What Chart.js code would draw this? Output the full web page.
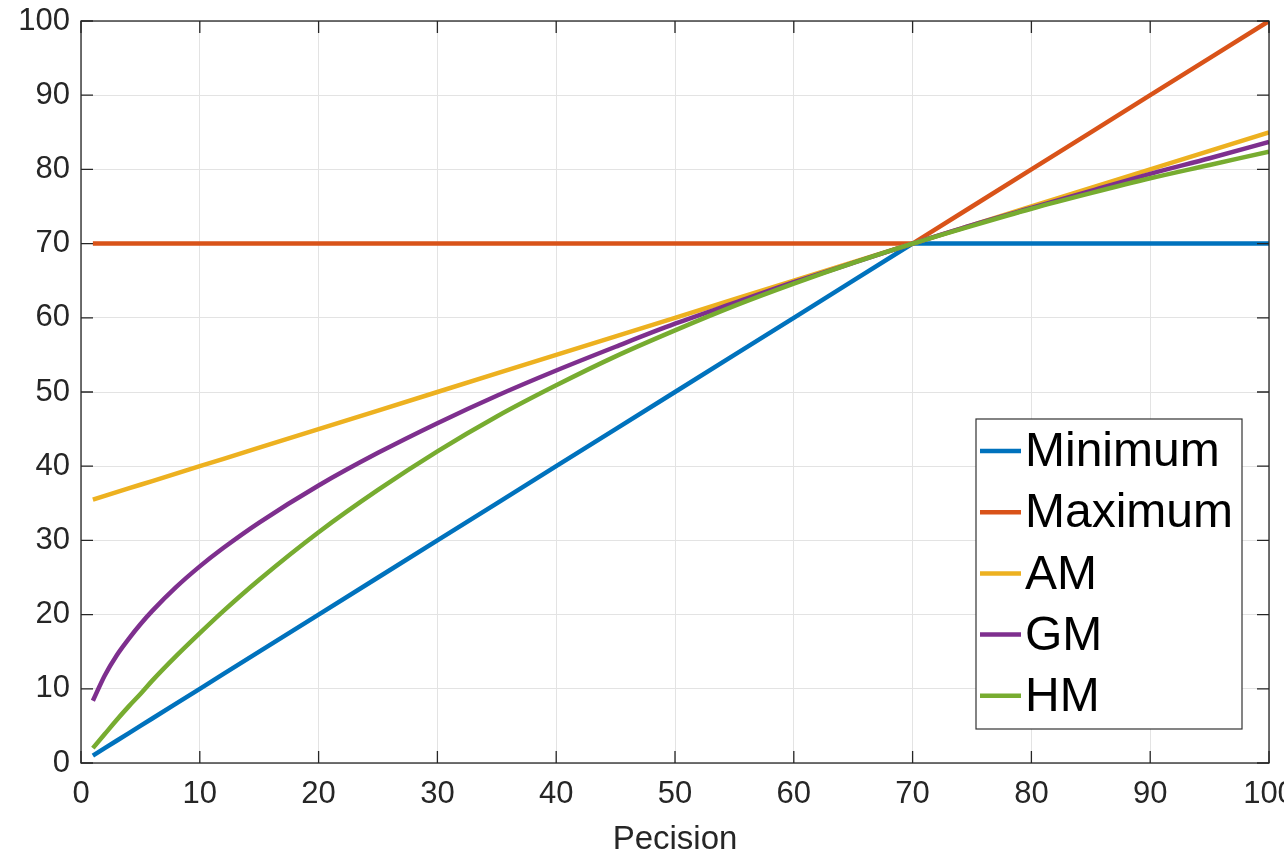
<!DOCTYPE html>
<html>
<head>
<meta charset="utf-8">
<script src="https://cdn.jsdelivr.net/npm/chart.js@4.4.1/dist/chart.umd.min.js"></script>
<style>
    html, body { margin: 0; padding: 0; background: #fff; overflow: hidden; }
    #wrap { position: relative; width: 1330px; height: 853px; }
</style>
</head>
<body>
<div id="wrap"><canvas id="meanChart"></canvas></div>
<script>
// --- data ---
const precision = [1, 2, 3, 4, 5, 6, 8, 10, 12, 15, 20, 25, 30, 35, 40, 45, 50, 55, 60, 65, 70, 75, 80, 85, 90, 95, 100];
const minimumVals = [1, 2, 3, 4, 5, 6, 8, 10, 12, 15, 20, 25, 30, 35, 40, 45, 50, 55, 60, 65, 70, 70, 70, 70, 70, 70, 70];
const maximumVals = [70, 70, 70, 70, 70, 70, 70, 70, 70, 70, 70, 70, 70, 70, 70, 70, 70, 70, 70, 70, 70, 75, 80, 85, 90, 95, 100];
const amVals = [35.5, 36, 36.5, 37, 37.5, 38, 39, 40, 41, 42.5, 45, 47.5, 50, 52.5, 55, 57.5, 60, 62.5, 65, 67.5, 70, 72.5, 75, 77.5, 80, 82.5, 85];
const gmVals = [8.4, 11.8, 14.5, 16.7, 18.7, 20.5, 23.7, 26.5, 29.0, 32.4, 37.4, 41.8, 45.8, 49.5, 52.9, 56.1, 59.2, 62.0, 64.8, 67.4, 70, 72.5, 74.8, 77.1, 79.4, 81.5, 83.7];
const hmVals = [2.0, 3.9, 5.8, 7.6, 9.3, 11.1, 14.4, 17.5, 20.5, 24.7, 31.1, 36.8, 42.0, 46.7, 50.9, 54.8, 58.3, 61.6, 64.6, 67.4, 70, 72.4, 74.7, 76.8, 78.8, 80.6, 82.4];
const seriesNames = ['Minimum', 'Maximum', 'AM', 'GM', 'HM'];
const seriesColors = ['#0072BD', '#D95319', '#EDB120', '#7E2F8E', '#77AC30'];
const seriesCurved = [false, false, false, true, true];
const axisTicks = [0, 10, 20, 30, 40, 50, 60, 70, 80, 90, 100];

const AXIS_COLOR = '#262626';

function toPoints(vals) {
    return precision.map((x, i) => ({ x: x, y: vals[i] }));
}

const allVals = [minimumVals, maximumVals, amVals, gmVals, hmVals];
const datasets = allVals.map((vals, i) => ({
    label: seriesNames[i],
    data: toPoints(vals),
    borderColor: seriesColors[i],
    backgroundColor: seriesColors[i],
    borderWidth: 4.5,
    pointRadius: 0,
    tension: 0,
    cubicInterpolationMode: seriesCurved[i] ? 'monotone' : 'default',
    fill: false,
    order: 5 - i   // later series on top, like the original
}));

// box outline + inward ticks
const frameTicks = {
    id: 'frameTicks',
    afterDatasetsDraw(chart) {
        const { ctx, chartArea: a } = chart;
        const xs = chart.scales.x, ys = chart.scales.y;
        ctx.save();
        ctx.strokeStyle = AXIS_COLOR;
        ctx.lineWidth = 1.3;
        ctx.strokeRect(a.left, a.top, a.right - a.left, a.bottom - a.top);
        ctx.beginPath();
        axisTicks.forEach(v => {
            const px = xs.getPixelForValue(v);
            ctx.moveTo(px, a.bottom); ctx.lineTo(px, a.bottom - 12);
            ctx.moveTo(px, a.top); ctx.lineTo(px, a.top + 12);
            const py = ys.getPixelForValue(v);
            ctx.moveTo(a.left, py); ctx.lineTo(a.left + 12, py);
            ctx.moveTo(a.right, py); ctx.lineTo(a.right - 12, py);
        });
        ctx.stroke();
        ctx.restore();
    }
};

// legend box inside the plot, lower right
const boxLegend = {
    id: 'boxLegend',
    afterDraw(chart) {
        const { ctx, chartArea: a } = chart;
        const w = 266, h = 310;
        const left = a.right - 27 - w, top = a.bottom - 34 - h;
        ctx.save();
        ctx.fillStyle = '#fff';
        ctx.fillRect(left, top, w, h);
        ctx.strokeStyle = '#333';
        ctx.lineWidth = 1.2;
        ctx.strokeRect(left, top, w, h);
        ctx.font = '48px "Liberation Sans", Arial, sans-serif';
        ctx.textBaseline = 'middle';
        ctx.fillStyle = '#000';
        chart.data.datasets.forEach((ds, i) => {
            const y = top + 32 + i * 61.2;
            ctx.strokeStyle = ds.borderColor;
            ctx.lineWidth = 4.5;
            ctx.beginPath();
            ctx.moveTo(left + 4, y); ctx.lineTo(left + 45, y);
            ctx.stroke();
            ctx.fillText(ds.label, left + 49, y + 2);
        });
        ctx.restore();
    }
};

const tickFont = { family: '"Liberation Sans", Arial, sans-serif', size: 31 };

new Chart(document.getElementById('meanChart'), {
    type: 'line',
    data: { datasets: datasets },
    options: {
        responsive: true,
        maintainAspectRatio: false,
        animation: false,
        layout: { padding: { top: 21, right: 61, left: 0, bottom: 0 } },
        plugins: { legend: { display: false }, tooltip: { enabled: false } },
        scales: {
            x: {
                type: 'linear',
                min: 0, max: 100,
                afterBuildTicks: s => { s.ticks = axisTicks.map(v => ({ value: v })); },
                afterFit: s => { s.height = 90; s.paddingLeft = 0; s.paddingRight = 0; },
                ticks: { color: AXIS_COLOR, font: tickFont, padding: 13, maxRotation: 0 },
                grid: { color: '#e3e3e3', lineWidth: 1, drawTicks: false },
                border: { display: false },
                title: {
                    display: true, text: 'Pecision', color: AXIS_COLOR,
                    font: { family: '"Liberation Sans", Arial, sans-serif', size: 33, lineHeight: 0.8 },
                    padding: { top: 0, bottom: 0 }
                }
            },
            y: {
                type: 'linear',
                min: 0, max: 100,
                afterBuildTicks: s => { s.ticks = axisTicks.map(v => ({ value: v })); },
                afterFit: s => { s.width = 81; s.paddingTop = 0; s.paddingBottom = 0; },
                ticks: { color: AXIS_COLOR, font: tickFont, padding: 11 },
                grid: { color: '#e3e3e3', lineWidth: 1, drawTicks: false },
                border: { display: false }
            }
        }
    },
    plugins: [frameTicks, boxLegend]
});
</script>
</body>
</html>
